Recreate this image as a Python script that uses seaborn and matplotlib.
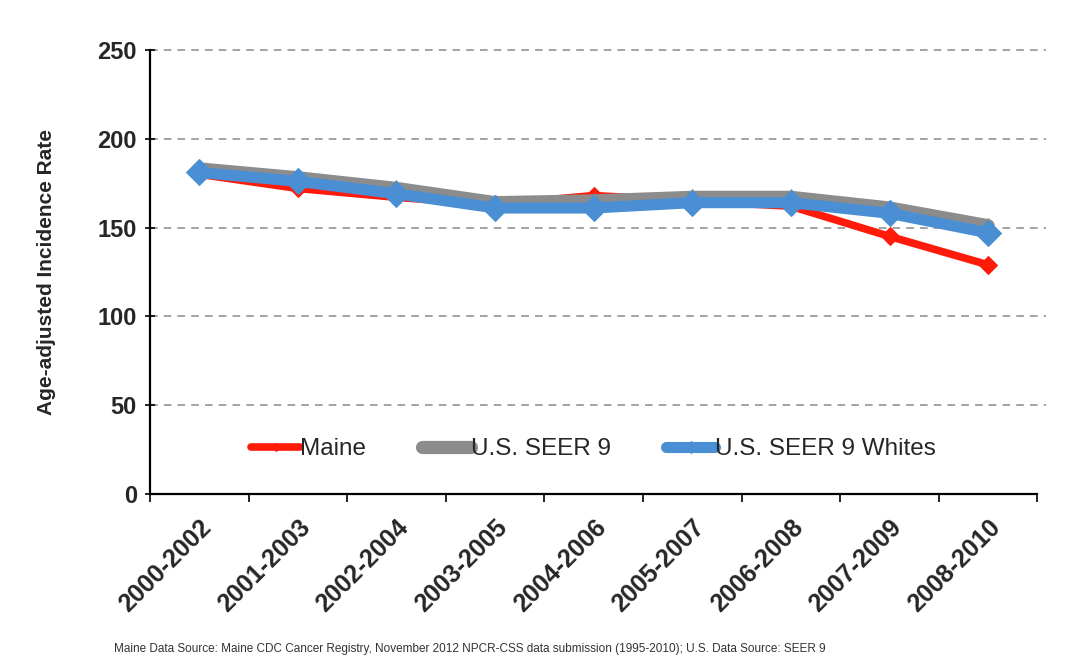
import matplotlib
matplotlib.use("Agg")
import matplotlib.pyplot as plt
import seaborn as sns
import pandas as pd
import numpy as np

# Three-year rolling periods
periods = ["2000-2002", "2001-2003", "2002-2004", "2003-2005", "2004-2006",
           "2005-2007", "2006-2008", "2007-2009", "2008-2010"]

# Age-adjusted incidence rates per 100,000
maine = [180, 172, 167, 163, 168, 165, 162, 145, 129]
seer9 = [183, 178, 172, 164, 165, 167, 167, 161, 151]
seer9_whites = [181, 176, 169, 161, 161, 164, 164, 158, 147]

series_names = ["Maine", "U.S. SEER 9", "U.S. SEER 9 Whites"]
series_values = [maine, seer9, seer9_whites]

df = pd.concat([
    pd.DataFrame({"period": periods, "idx": np.arange(len(periods)),
                  "rate": vals, "series": name})
    for name, vals in zip(series_names, series_values)
], ignore_index=True)

sns.set_theme(style="white")
plt.rcParams["font.family"] = ["Liberation Sans", "DejaVu Sans"]

fig = plt.figure(figsize=(10.85, 6.58), dpi=100)
ax = fig.add_axes([0.1382, 0.2492, 0.818, 0.675])

styles = {
    "Maine": dict(color="#ff1a0a", linewidth=5.5, marker="D", markersize=9,
                  markeredgecolor="#ff1a0a"),
    "U.S. SEER 9": dict(color="#8c8c8c", linewidth=9.5, marker="^", markersize=12,
                        markeredgecolor="#8c8c8c"),
    "U.S. SEER 9 Whites": dict(color="#4a8fd4", linewidth=8, marker="D", markersize=13,
                               markeredgecolor="#4a8fd4"),
}

for name in series_names:
    sub = df[df["series"] == name]
    sns.lineplot(data=sub, x="idx", y="rate", ax=ax, label=name, **styles[name])

# Axes limits and grid
ax.set_xlim(-0.5, len(periods) - 0.5)
ax.set_ylim(0, 250)
ax.set_yticks(np.arange(0, 251, 50))
for y in np.arange(50, 251, 50):
    ax.axhline(y, color="#8a8a8a", linewidth=1.1, linestyle=(0, (5, 4)),
               zorder=0.5, xmax=1.01, clip_on=False)

ax.set_xticks(np.arange(len(periods)))
ax.set_xticklabels(periods, rotation=45, ha="right", rotation_mode="anchor",
                   fontsize=18, fontweight="bold")
ax.set_xticks(np.arange(-0.5, len(periods)), minor=True)
ax.tick_params(axis="x", which="major", length=0, pad=15)
ax.tick_params(axis="x", which="minor", length=6, width=1.2, color="black",
               direction="out", bottom=True)
ax.tick_params(axis="y", length=7, width=1.2, color="black", direction="inout",
               left=True, labelsize=17, pad=6)
for lab in ax.get_yticklabels():
    lab.set_fontweight("bold")

for side in ["top", "right"]:
    ax.spines[side].set_visible(False)
for side in ["left", "bottom"]:
    ax.spines[side].set_color("black")
    ax.spines[side].set_linewidth(1.6)

ax.set_xlabel("")
ax.set_ylabel("Age-adjusted Incidence Rate", fontsize=15, fontweight="bold",
              labelpad=30)

ax.legend(loc="center", bbox_to_anchor=(0.5, 0.101), ncol=3, frameon=False,
          fontsize=17.5, handlelength=2.0, columnspacing=2.3, handletextpad=0.0,
          markerscale=0.5)

fig.text(0.105, 0.004, "Maine Data Source: Maine CDC Cancer Registry, November 2012 NPCR-CSS "
         "data submission (1995-2010); U.S. Data Source: SEER 9",
         fontsize=8.5, color="#333333", va="bottom", ha="left")

fig.savefig("out.png", dpi=100)
